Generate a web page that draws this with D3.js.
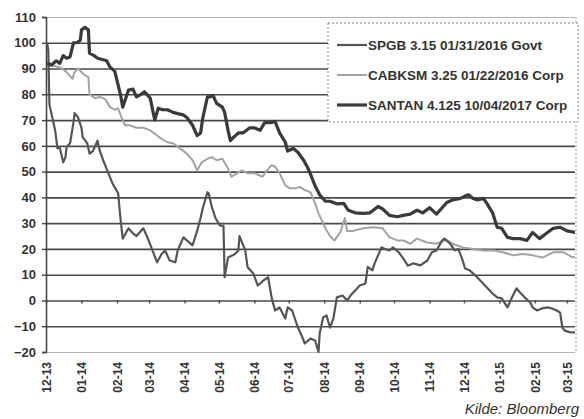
<!DOCTYPE html>
<html>
<head>
<meta charset="utf-8">
<script src="https://cdn.jsdelivr.net/npm/d3@7"></script>
<style>
    body { margin: 0; background: #fff; }
    svg { display: block; font-family: "Liberation Sans", Arial, sans-serif; }
</style>
</head>
<body>
<div id="chart"></div>
<script>
// series: [date, value]
const spgb = [
    ["2013-12-02",100],["2013-12-03",97],["2013-12-04",76],["2013-12-07",70],["2013-12-09",66],["2013-12-11",59],
    ["2013-12-13",59.5],["2013-12-16",53.6],["2013-12-18",55.6],["2013-12-19",59.5],["2013-12-22",61],["2013-12-25",69],
    ["2013-12-26",72.7],["2013-12-29",71],["2014-01-01",67],["2014-01-02",63.4],["2014-01-06",61],["2014-01-08",57],
    ["2014-01-11",58],["2014-01-15",62],["2014-01-17",58],["2014-01-20",54.4],["2014-01-23",51],["2014-01-28",45.5],
    ["2014-02-02",41.6],["2014-02-04",32],["2014-02-06",24],["2014-02-11",28],["2014-02-15",26],["2014-02-18",25],
    ["2014-02-24",28],["2014-02-28",24],["2014-03-04",19.4],["2014-03-08",14.8],["2014-03-12",18],["2014-03-15",19.4],
    ["2014-03-19",15.5],["2014-03-24",14.8],["2014-03-26",19.4],["2014-03-31",24.5],["2014-04-03",23.3],["2014-04-08",21.4],
    ["2014-04-12",27],["2014-04-15",32],["2014-04-17",36],["2014-04-21",42],["2014-04-22",41.6],["2014-04-25",36],
    ["2014-04-28",32],["2014-05-02",29],["2014-05-05",29],["2014-05-06",9],["2014-05-09",16.7],["2014-05-13",17.5],
    ["2014-05-15",18],["2014-05-18",19.4],["2014-05-19",25],["2014-05-24",19.4],["2014-05-26",13],["2014-05-31",10.5],
    ["2014-06-04",5.8],["2014-06-09",7.8],["2014-06-13",9],["2014-06-16",1.2],["2014-06-19",-3.9],["2014-06-23",-2.7],
    ["2014-06-28",-7],["2014-06-30",-2.7],["2014-07-04",-3.9],["2014-07-06",-6.6],["2014-07-09",-10.5],["2014-07-13",-14.4],
    ["2014-07-15",-16.7],["2014-07-20",-14.8],["2014-07-24",-15.5],["2014-07-27",-20],["2014-07-28",-12.8],["2014-07-31",-6.6],
    ["2014-08-03",-5.8],["2014-08-06",-10.5],["2014-08-09",-7],["2014-08-12",1.2],["2014-08-17",1.9],["2014-08-21",0],
    ["2014-08-24",1.9],["2014-08-28",3.9],["2014-09-01",5.8],["2014-09-06",6.6],["2014-09-08",13],["2014-09-12",11.7],
    ["2014-09-14",14.4],["2014-09-17",17.5],["2014-09-20",20.6],["2014-09-23",20],["2014-09-27",19.4],["2014-09-30",20.6],
    ["2014-10-05",18.7],["2014-10-09",16.3],["2014-10-13",13.5],["2014-10-18",14.4],["2014-10-24",13.6],["2014-10-30",15.5],
    ["2014-11-03",18.7],["2014-11-07",19.4],["2014-11-12",23.3],["2014-11-14",24],["2014-11-19",22],["2014-11-23",19.4],
    ["2014-11-26",20],["2014-11-29",16.7],["2014-12-02",12.4],["2014-12-06",11.7],["2014-12-11",9.7],["2014-12-15",7.8],
    ["2014-12-21",5],["2014-12-26",2.7],["2014-12-30",1.2],["2015-01-03",0.8],["2015-01-08",-2.7],["2015-01-12",1.2],
    ["2015-01-16",4.7],["2015-01-19",3.1],["2015-01-23",1.2],["2015-01-28",-0.8],["2015-01-30",-2.7],["2015-02-03",-3.9],
    ["2015-02-07",-3.1],["2015-02-12",-2.7],["2015-02-16",-3.1],["2015-02-20",-3.9],["2015-02-23",-4.7],["2015-02-25",-10.5],
    ["2015-02-27",-11.7],["2015-03-04",-12.4],["2015-03-08",-12.4]
];

const cabksm = [
    ["2013-12-02",91],["2013-12-09",91],["2013-12-15",90],["2013-12-19",88.6],["2013-12-24",86],["2013-12-26",88.6],
    ["2013-12-29",90],["2014-01-01",88.6],["2014-01-04",87.4],["2014-01-07",86.7],["2014-01-08",80],["2014-01-13",78.5],
    ["2014-01-17",79],["2014-01-22",78],["2014-01-26",75],["2014-01-30",74],["2014-02-02",74.6],["2014-02-05",71],
    ["2014-02-08",68],["2014-02-12",68],["2014-02-18",67],["2014-02-24",67],["2014-03-02",66],["2014-03-08",64],
    ["2014-03-11",63],["2014-03-17",61.4],["2014-03-22",61],["2014-03-28",59],["2014-04-03",57],["2014-04-08",54.4],
    ["2014-04-12",50.5],["2014-04-16",53.6],["2014-04-21",55],["2014-04-25",55.6],["2014-04-29",54.4],["2014-05-04",55],
    ["2014-05-08",52],["2014-05-12",48],["2014-05-17",49.4],["2014-05-21",50.5],["2014-05-26",49.4],["2014-06-01",49.4],
    ["2014-06-08",48],["2014-06-12",50.5],["2014-06-16",52.5],["2014-06-19",52],["2014-06-23",49.4],["2014-06-28",44.7],
    ["2014-07-02",43.5],["2014-07-06",43.5],["2014-07-11",44],["2014-07-15",42.8],["2014-07-20",42],["2014-07-24",37.7],
    ["2014-07-27",33.8],["2014-07-30",31],["2014-08-02",28],["2014-08-06",25],["2014-08-10",23.3],["2014-08-15",26.4],
    ["2014-08-19",32],["2014-08-21",27],["2014-08-26",27],["2014-09-04",28],["2014-09-13",28.4],["2014-09-21",28],
    ["2014-09-27",24.5],["2014-10-04",23.3],["2014-10-09",23.3],["2014-10-15",22],["2014-10-21",24],["2014-10-30",22.5],
    ["2014-11-07",22],["2014-11-16",23.5],["2014-11-21",22],["2014-11-30",20.6],["2014-12-09",20],["2014-12-18",19.4],
    ["2014-12-27",19.4],["2015-01-04",18.7],["2015-01-13",17.5],["2015-01-22",18],["2015-01-30",17.5],["2015-02-08",16.7],
    ["2015-02-17",18.7],["2015-02-26",18.7],["2015-03-06",16.7],["2015-03-08",17]
];

const santan = [
    ["2013-12-02",92],["2013-12-06",91.5],["2013-12-10",93],["2013-12-13",92],["2013-12-16",95],["2013-12-19",94],
    ["2013-12-22",94.5],["2013-12-25",100],["2013-12-28",100],["2013-12-31",101],["2014-01-01",105],["2014-01-04",106],
    ["2014-01-07",105],["2014-01-08",96],["2014-01-12",95],["2014-01-15",94],["2014-01-19",93.5],["2014-01-23",93],
    ["2014-01-26",90.5],["2014-01-30",89],["2014-02-04",80],["2014-02-06",75],["2014-02-11",81.6],["2014-02-15",82],
    ["2014-02-18",79],["2014-02-22",80],["2014-02-25",81],["2014-03-02",78.5],["2014-03-06",70],["2014-03-09",74.6],
    ["2014-03-13",74],["2014-03-17",74],["2014-03-22",73],["2014-03-26",72.5],["2014-03-31",72],["2014-04-03",71],
    ["2014-04-08",68],["2014-04-12",64],["2014-04-15",65],["2014-04-17",71],["2014-04-21",79],["2014-04-23",79],
    ["2014-04-26",79.5],["2014-04-29",76.5],["2014-05-04",75],["2014-05-06",73],["2014-05-09",66],["2014-05-11",62],
    ["2014-05-13",63],["2014-05-18",65],["2014-05-22",65],["2014-05-28",67],["2014-06-01",67],["2014-06-06",66],
    ["2014-06-10",69],["2014-06-15",69],["2014-06-19",69.5],["2014-06-23",65],["2014-06-28",61.4],["2014-06-30",58],
    ["2014-07-05",59],["2014-07-09",57.5],["2014-07-14",54.4],["2014-07-17",52],["2014-07-20",49],["2014-07-24",44.5],
    ["2014-07-28",41],["2014-08-02",38.5],["2014-08-06",38.5],["2014-08-12",37.5],["2014-08-18",37.7],["2014-08-22",35],
    ["2014-08-28",34],["2014-09-04",33.8],["2014-09-10",34],["2014-09-17",36.5],["2014-09-21",35.5],["2014-09-27",33],
    ["2014-10-04",32.5],["2014-10-09",33],["2014-10-15",33.5],["2014-10-21",35],["2014-10-26",34],["2014-11-01",36],
    ["2014-11-07",33.5],["2014-11-12",36],["2014-11-16",38],["2014-11-21",39],["2014-11-28",39.6],["2014-12-02",40.5],
    ["2014-12-05",41],["2014-12-09",39.6],["2014-12-13",39],["2014-12-18",39.6],["2014-12-21",37.7],["2014-12-26",34],
    ["2014-12-30",28.4],["2015-01-03",28],["2015-01-08",24.5],["2015-01-13",24],["2015-01-19",24],["2015-01-25",23.3],
    ["2015-01-30",26.4],["2015-02-05",24],["2015-02-12",26.4],["2015-02-17",28],["2015-02-23",28.4],["2015-03-01",27],
    ["2015-03-08",26.4]
];

const seriesNames = ["SPGB 3.15 01/31/2016 Govt", "CABKSM 3.25 01/22/2016 Corp", "SANTAN 4.125 10/04/2017 Corp"];
const yTicks = [-20, -10, 0, 10, 20, 30, 40, 50, 60, 70, 80, 90, 100, 110];
const dateStart = "2013-12-01", dateEnd = "2015-03-08";
const source = "Kilde: Bloomberg";

const parse = d3.timeParse("%Y-%m-%d");

const width = 584, height = 419;
const margin = { top: 17, right: 9, bottom: 67, left: 46 };
const plotW = width - margin.left - margin.right;
const plotH = height - margin.top - margin.bottom;

const svg = d3.select("#chart").append("svg")
    .attr("width", width)
    .attr("height", height);

const g = svg.append("g")
    .attr("transform", "translate(" + margin.left + "," + margin.top + ")");

const x = d3.scaleTime()
    .domain([parse(dateStart), parse(dateEnd)])
    .range([0, plotW]);

const y = d3.scaleLinear()
    .domain([-20, 110])
    .range([plotH, 0]);

// gridlines
g.append("g")
    .attr("class", "grid")
    .call(d3.axisLeft(y).tickValues(yTicks).tickSize(-plotW).tickFormat(""))
    .call(s => s.select(".domain").remove())
    .call(s => s.selectAll(".tick line")
        .attr("stroke", d => (d === 110 || d === -20) ? "#b5b5b5" : "#4a4a4a")
        .attr("stroke-width", d => (d === 110 || d === -20) ? 1.2 : 1.6));

// right border (dotted)
g.append("line")
    .attr("x1", plotW + 1).attr("x2", plotW + 1)
    .attr("y1", 0).attr("y2", plotH)
    .attr("stroke", "#999")
    .attr("stroke-dasharray", "2,2");

// y axis
g.append("g")
    .call(d3.axisLeft(y).tickValues(yTicks).tickSize(4).tickPadding(6))
    .call(s => s.select(".domain").attr("stroke", "#444").attr("stroke-width", 1.6))
    .call(s => s.selectAll(".tick line").attr("stroke", "#444").attr("stroke-width", 1.4))
    .call(s => s.selectAll("text")
        .attr("fill", "#333")
        .style("font-size", "13px")
        .style("font-weight", "bold"));

const months = d3.timeMonth.range(parse(dateStart), parse("2015-03-02"));

// x tick marks sit on the zero line
g.append("g")
    .attr("transform", "translate(0," + y(0) + ")")
    .call(d3.axisBottom(x).tickValues(months).tickSize(3).tickFormat(""))
    .call(s => s.select(".domain").remove())
    .call(s => s.selectAll(".tick line").attr("stroke", "#444").attr("stroke-width", 1.4));

// x labels at the bottom
g.append("g")
    .attr("transform", "translate(0," + plotH + ")")
    .call(d3.axisBottom(x).tickValues(months).tickSize(0).tickFormat(d3.timeFormat("%m-%y")))
    .call(s => s.select(".domain").remove())
    .call(s => s.selectAll("text")
        .attr("transform", "rotate(-90)")
        .attr("x", -10)
        .attr("y", 0)
        .attr("dy", "0.35em")
        .style("text-anchor", "end")
        .attr("fill", "#333")
        .style("font-size", "12px")
        .style("font-weight", "bold"));

const line = d3.line()
    .x(d => x(parse(d[0])))
    .y(d => y(d[1]));

const styles = [
    { data: spgb, color: "#555", width: 2.2 },
    { data: cabksm, color: "#a3a3a3", width: 2 },
    { data: santan, color: "#3a3a3a", width: 3.2 }
];

[styles[1], styles[0], styles[2]].forEach(s => {
    g.append("path")
        .datum(s.data)
        .attr("fill", "none")
        .attr("stroke", s.color)
        .attr("stroke-width", s.width)
        .attr("stroke-linejoin", "round")
        .attr("d", line);
});

// legend
const legend = svg.append("g").attr("transform", "translate(328,23)");
legend.append("rect")
    .attr("width", 250).attr("height", 99)
    .attr("fill", "#fff")
    .attr("stroke", "#888")
    .attr("stroke-dasharray", "2,2");

seriesNames.forEach((name, i) => {
    const row = legend.append("g").attr("transform", "translate(0," + (22 + i * 30) + ")");
    row.append("line")
        .attr("x1", 9).attr("x2", 39)
        .attr("stroke", styles[i].color)
        .attr("stroke-width", styles[i].width);
    row.append("text")
        .attr("x", 40)
        .attr("dy", "0.35em")
        .attr("fill", "#333")
        .style("font-size", "13.5px")
        .style("font-weight", "bold")
        .text(name);
});

svg.append("text")
    .attr("x", 579)
    .attr("y", 414)
    .attr("text-anchor", "end")
    .attr("fill", "#333")
    .style("font-family", "'Liberation Sans Narrow', 'Liberation Sans', Arial, sans-serif")
    .style("font-size", "15px")
    .style("font-style", "italic")
    .text(source);
</script>
</body>
</html>
